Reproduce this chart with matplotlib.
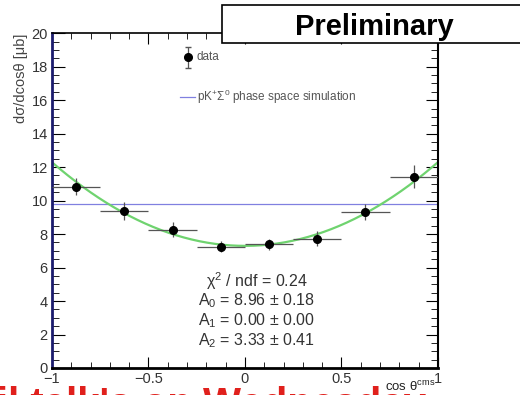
import matplotlib
matplotlib.use("Agg")
import matplotlib.pyplot as plt
import numpy as np
from matplotlib.patches import Rectangle
from matplotlib.ticker import MultipleLocator

plt.rcParams["font.family"] = ["Liberation Sans", "DejaVu Sans"]
plt.rcParams["mathtext.fontset"] = "custom"
plt.rcParams["mathtext.rm"] = "Liberation Sans"
plt.rcParams["mathtext.it"] = "Liberation Sans:italic"

# measured cross section per cos(theta) bin
cos_bins = [-0.875, -0.625, -0.375, -0.125, 0.125, 0.375, 0.625, 0.875]
bin_half = [0.125] * 8
xsec = [10.82, 9.37, 8.25, 7.25, 7.38, 7.72, 9.32, 11.42]
xsec_err = [0.50, 0.55, 0.45, 0.35, 0.35, 0.45, 0.50, 0.68]

# Legendre fit A0 + A1 P1 + A2 P2
A0, A1, A2 = 8.96, 0.00, 3.33
phase_space = 9.8

stats = [
    r"χ$^{2}$ / ndf = 0.24",
    "A$_{0}$ = 8.96 ± 0.18",
    "A$_{1}$ = 0.00 ± 0.00",
    "A$_{2}$ = 3.33 ± 0.41",
]

fig = plt.figure(figsize=(5.2, 3.95), dpi=100)
ax = fig.add_axes([0.1, 0.0684, 0.742, 0.8476])

ax.axhline(phase_space, color="#8080e0", lw=0.9, zorder=1)

xf = np.linspace(-1, 1, 200)
fit = A0 + A1 * xf + A2 * 0.5 * (3 * xf**2 - 1)
ax.plot(xf, fit, color="#6fd36f", lw=1.6, zorder=2)

ax.errorbar(cos_bins, xsec, xerr=bin_half, yerr=xsec_err, fmt="o", ms=5.5,
            color="black", ecolor="#555555", elinewidth=0.9, capsize=0, zorder=3)

ax.set_xlim(-1, 1)
ax.set_ylim(0, 20)
ax.xaxis.set_minor_locator(MultipleLocator(0.1))
ax.yaxis.set_major_locator(MultipleLocator(2))
ax.yaxis.set_minor_locator(MultipleLocator(0.5))
ax.set_xticks([-1, -0.5, 0, 0.5, 1])
ax.set_xticklabels(["\u22121", "\u22120.5", "0", "0.5", "1"])
ax.tick_params(which="both", direction="in", top=True, right=True,
               labelsize=10.5, labelcolor="#333333", pad=3)
ax.tick_params(axis="y", which="major", length=9)
ax.tick_params(axis="y", which="minor", length=5)
ax.tick_params(axis="x", which="major", length=8)
ax.tick_params(axis="x", which="minor", length=4)

ax.spines["left"].set_color("#1c1c6e")
ax.spines["left"].set_linewidth(2)
ax.spines["bottom"].set_linewidth(2)
ax.spines["top"].set_linewidth(1.2)
ax.spines["right"].set_linewidth(1.5)

fig.text(0.04, 0.916, "dσ/dcosθ [μb]", rotation=90,
         ha="center", va="top", fontsize=10.5, color="#444444")

# legend, drawn by hand like the ROOT box
ax.errorbar([-0.295], [18.55], yerr=[0.65], fmt="o", ms=5.5, color="black",
            ecolor="#555555", elinewidth=0.9, capsize=2, clip_on=False)
ax.text(-0.25, 18.55, "data", fontsize=8.5, color="#555555", va="center")
ax.plot([-0.337, -0.26], [16.2, 16.2], color="#8080e0", lw=0.9)
ax.text(-0.25, 16.2, "pK$^{+}$Σ$^{0}$ phase space simulation",
        fontsize=8.5, color="#555555", va="center")

for i, s in enumerate(stats):
    ax.text(0.06, 5.2 - i * 1.18, s, ha="center", va="center",
            fontsize=11.5, color="#333333")

# Preliminary banner
fig.patches.append(Rectangle((0.427, 0.891), 0.6, 0.097, transform=fig.transFigure,
                             facecolor="white", edgecolor="black", lw=1.2, zorder=10))
fig.text(0.72, 0.911, "Preliminary", fontsize=21, fontweight="bold",
         ha="center", va="baseline", zorder=11)

# slide text cut by the bottom edge
fig.text(-0.006, -0.053, "il talk's on Wednesday", fontsize=29, fontweight="bold",
         color="#e0201c", ha="left", va="baseline", zorder=5)
fig.text(0.838, 0.003, r"cos θ$^{\mathrm{cms}}$", fontsize=9.5, color="#222222",
         ha="right", va="bottom", zorder=6)

fig.savefig("out.png", dpi=100)
